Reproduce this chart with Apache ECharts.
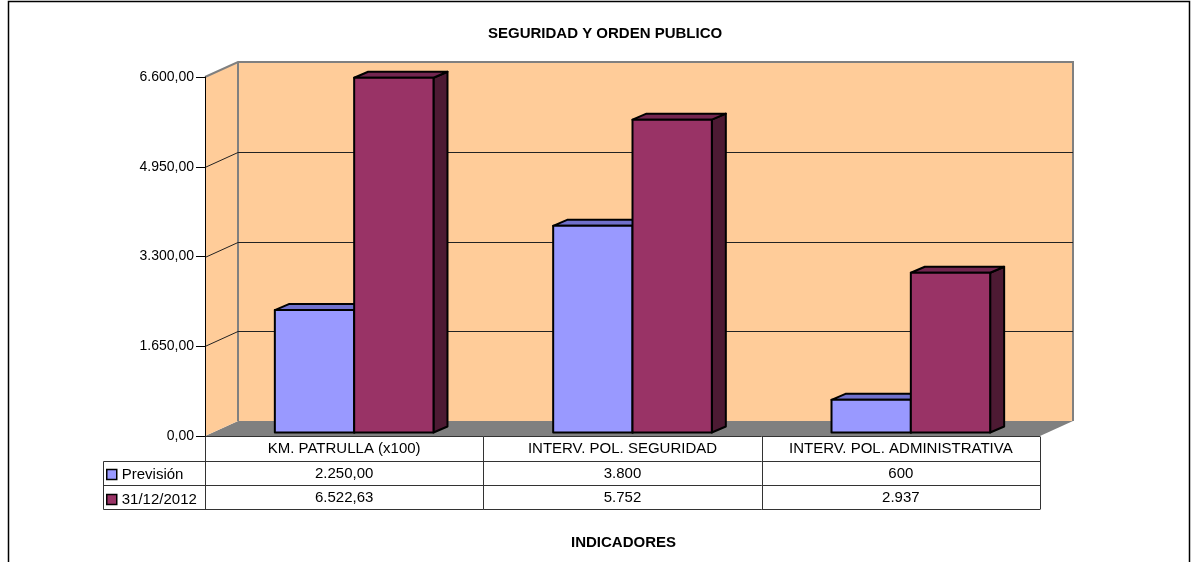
<!DOCTYPE html>
<html>
<head>
<meta charset="utf-8">
<style>
  html, body { margin: 0; padding: 0; background: #fff; }
  #chart { width: 1191px; height: 562px; }
</style>
<script src="https://cdn.jsdelivr.net/npm/echarts@6/dist/echarts.min.js"></script>
</head>
<body>
<div id="chart"></div>
<script>
const categories = ["KM. PATRULLA (x100)", "INTERV. POL. SEGURIDAD", "INTERV. POL. ADMINISTRATIVA"];
const seriesNames = ["Previsión", "31/12/2012"];
const prevision = [2250, 3800, 600];
const real = [6522.63, 5752, 2937];
const previsionLabels = ["2.250,00", "3.800", "600"];
const realLabels = ["6.522,63", "5.752", "2.937"];
const yTicks = [0, 1650, 3300, 4950, 6600];

const FONT = "Liberation Sans, Arial, sans-serif";
const PEACH = "#ffcc99";
const GRAY = "#808080";

// fake 3D: depth of the walls and of the bars, in pixels
const WALL_DX = 33;
const WALL_DY = -15;
const BAR_SHIFT_X = 10;
const BAR_SHIFT_Y = -3.5;
const BAR_DX = 14;
const BAR_DY = -6;
const BAR_W = 0.285;

const ROW_H = [25, 24, 24];
const LEGEND_COL_W = 102;

function fmt(v) {
  const [int, dec] = v.toFixed(2).split(".");
  return int.replace(/\B(?=(\d{3})+(?!\d))/g, ".") + "," + dec;
}

function frame(api) {
  const bw = api.size([1, 0])[0];
  const first = api.coord([0, 0]);
  const last = api.coord([categories.length - 1, yTicks[yTicks.length - 1]]);
  return { left: first[0] - bw / 2, right: last[0] + bw / 2, bottom: first[1], top: last[1], bw };
}

function renderWalls(params, api) {
  const f = frame(api);
  const L = f.left, R = f.right, B = f.bottom, T = f.top;
  return {
    type: "group",
    children: [
      { type: "polygon", shape: { points: [[L, B], [L + WALL_DX, B + WALL_DY], [R + WALL_DX, B + WALL_DY], [R, B]] }, style: { fill: GRAY } },
      { type: "polygon", shape: { points: [[L, B], [L, T], [L + WALL_DX, T + WALL_DY], [L + WALL_DX, B + WALL_DY]] }, style: { fill: PEACH } },
      { type: "rect", shape: { x: L + WALL_DX, y: T + WALL_DY, width: R - L, height: B - T }, style: { fill: PEACH } },
      { type: "polyline", shape: { points: [[L, T], [L + WALL_DX, T + WALL_DY], [R + WALL_DX, T + WALL_DY], [R + WALL_DX, B + WALL_DY]] }, style: { stroke: GRAY, lineWidth: 2, fill: null } },
      { type: "line", shape: { x1: L + WALL_DX, y1: T + WALL_DY, x2: L + WALL_DX, y2: B + WALL_DY }, style: { stroke: GRAY, lineWidth: 2 } }
    ]
  };
}

function renderGridLine(params, api) {
  const f = frame(api);
  const y = Math.round(api.coord([0, api.value(1)])[1]) + 0.5;
  return {
    type: "group",
    children: [
      { type: "line", shape: { x1: f.left, y1: y, x2: f.left + WALL_DX, y2: y + WALL_DY }, style: { stroke: "#222", lineWidth: 1 } },
      { type: "line", shape: { x1: f.left + WALL_DX, y1: y + WALL_DY, x2: f.right + WALL_DX, y2: y + WALL_DY }, style: { stroke: "#222", lineWidth: 1 } }
    ]
  };
}

function barRenderer(offset, colors) {
  return function (params, api) {
    const c = api.coord([api.value(0), api.value(1)]);
    const base = api.coord([api.value(0), 0]);
    const bw = api.size([1, 0])[0];
    const w = BAR_W * bw;
    const l = c[0] + BAR_SHIFT_X + offset * w;
    const r = l + w;
    const t = c[1] + BAR_SHIFT_Y;
    const b = base[1] + BAR_SHIFT_Y;
    const stroke = { stroke: "#000", lineWidth: 2, lineJoin: "round" };
    return {
      type: "group",
      children: [
        { type: "polygon", shape: { points: [[r, t], [r + BAR_DX, t + BAR_DY], [r + BAR_DX, b + BAR_DY], [r, b]] }, style: Object.assign({ fill: colors[2] }, stroke) },
        { type: "polygon", shape: { points: [[l, t], [l + BAR_DX, t + BAR_DY], [r + BAR_DX, t + BAR_DY], [r, t]] }, style: Object.assign({ fill: colors[1] }, stroke) },
        { type: "rect", shape: { x: l, y: t, width: w, height: b - t }, style: Object.assign({ fill: colors[0] }, stroke) }
      ]
    };
  };
}

function renderTable(params, api) {
  const i = api.value(0);
  const bw = api.size([1, 0])[0];
  const c = api.coord([i, 0]);
  const l = c[0] - bw / 2, r = c[0] + bw / 2;
  const y0 = Math.round(c[1]) + 0.5;
  const ys = [y0, y0 + ROW_H[0], y0 + ROW_H[0] + ROW_H[1], y0 + ROW_H[0] + ROW_H[1] + ROW_H[2]];
  const lineStyle = { stroke: "#333", lineWidth: 1 };
  const txt = (text, y) => ({
    type: "text",
    style: { text, x: c[0], y, align: "center", verticalAlign: "middle", font: "15px " + FONT, fill: "#000" }
  });
  const children = ys.map((y) => ({ type: "line", shape: { x1: l, y1: y, x2: r, y2: y }, style: lineStyle }));
  children.push({ type: "line", shape: { x1: Math.round(r) + 0.5, y1: ys[0], x2: Math.round(r) + 0.5, y2: ys[3] }, style: lineStyle });
  if (i === 0) {
    const xl = Math.round(l) + 0.5;
    const leg = xl - LEGEND_COL_W;
    children.push({ type: "line", shape: { x1: xl, y1: ys[0], x2: xl, y2: ys[3] }, style: lineStyle });
    children.push({ type: "line", shape: { x1: leg, y1: ys[1], x2: leg, y2: ys[3] }, style: lineStyle });
    [1, 2, 3].forEach((k) => children.push({ type: "line", shape: { x1: leg, y1: ys[k], x2: xl, y2: ys[k] }, style: lineStyle }));
  }
  children.push(txt(categories[i], (ys[0] + ys[1]) / 2));
  children.push(txt(previsionLabels[i], (ys[1] + ys[2]) / 2));
  children.push(txt(realLabels[i], (ys[2] + ys[3]) / 2));
  return { type: "group", children };
}

const chart = echarts.init(document.getElementById("chart"));

chart.setOption({
  animation: false,
  backgroundColor: "#fff",
  title: [
    { text: "SEGURIDAD Y ORDEN PUBLICO", left: 488, top: 25, padding: 0, textStyle: { fontFamily: FONT, fontSize: 15, fontWeight: "bold", color: "#000", lineHeight: 18 } },
    { text: "INDICADORES", left: 571, top: 534, padding: 0, textStyle: { fontFamily: FONT, fontSize: 15, fontWeight: "bold", color: "#000", lineHeight: 18 } }
  ],
  legend: {
    data: seriesNames,
    orient: "vertical",
    left: 106,
    top: 467,
    padding: 0,
    icon: "rect",
    itemWidth: 10,
    itemHeight: 10,
    itemGap: 10,
    itemTextGap: 5,
    selectedMode: false,
    itemStyle: { borderColor: "#000", borderWidth: 1.5 },
    textStyle: { fontFamily: FONT, fontSize: 15, color: "#000", lineHeight: 14 }
  },
  graphic: [
    { type: "rect", shape: { x: 8.5, y: 1.5, width: 1181, height: 600 }, style: { fill: null, stroke: "#000", lineWidth: 1.5 }, z: -10 }
  ],
  grid: { left: 205, right: 151, top: 77, bottom: 126 },
  xAxis: { type: "category", data: categories, show: false },
  yAxis: {
    type: "value",
    min: 0,
    max: 6600,
    interval: 1650,
    z: 10,
    axisLine: { show: true, lineStyle: { color: "#000", width: 1 } },
    axisTick: { show: true, length: 9, lineStyle: { color: "#000" } },
    axisLabel: { margin: 11, color: "#000", fontFamily: FONT, fontSize: 14, formatter: fmt },
    splitLine: { show: false }
  },
  series: [
    { type: "custom", name: "walls", silent: true, renderItem: renderWalls, data: [[0, 0]], encode: { x: 0, y: 1 } },
    { type: "custom", name: "grid", silent: true, renderItem: renderGridLine, data: yTicks.slice(1, -1).map((v) => [0, v]), encode: { x: 0, y: 1 } },
    {
      type: "custom",
      name: seriesNames[0],
      itemStyle: { color: "#9999ff" },
      renderItem: barRenderer(-1, ["#9999ff", "#7070cc", "#5c5cb0"]),
      data: prevision.map((v, i) => [i, v]),
      encode: { x: 0, y: 1 }
    },
    {
      type: "custom",
      name: seriesNames[1],
      itemStyle: { color: "#993366" },
      renderItem: barRenderer(0, ["#993366", "#732650", "#4d1a33"]),
      data: real.map((v, i) => [i, v]),
      encode: { x: 0, y: 1 }
    },
    { type: "custom", name: "table", silent: true, renderItem: renderTable, data: categories.map((c, i) => [i, 0]), encode: { x: 0, y: 1 } }
  ]
});
</script>
</body>
</html>
